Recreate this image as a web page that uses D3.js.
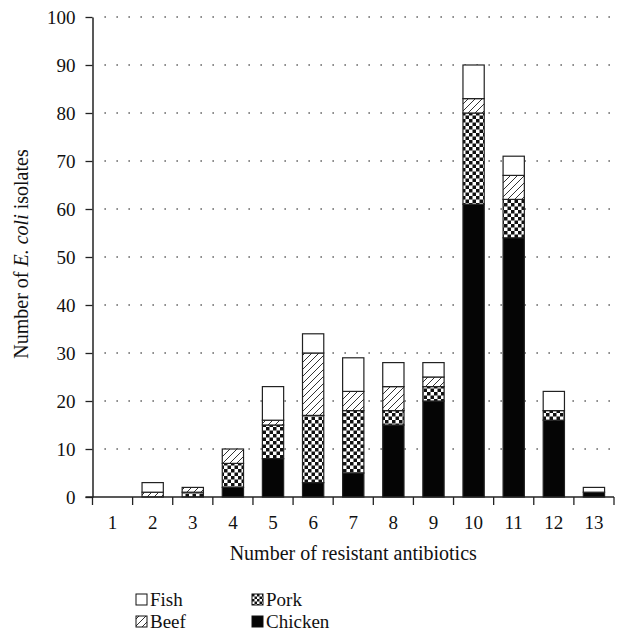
<!DOCTYPE html>
<html><head><meta charset="utf-8">
<script src="https://cdn.jsdelivr.net/npm/d3@7"></script>
<style>body{margin:0;background:#fff}svg{display:block}text{font-family:"Liberation Serif","Times New Roman",serif;fill:#111}</style>
</head><body><svg id="c" width="618" height="639"></svg>
<script>
const categories = ["1","2","3","4","5","6","7","8","9","10","11","12","13"];
const chicken = [0,0,0,2,8,3,5,15,20,61,54,16,1];
const pork    = [0,0,1,5,7,14,13,3,3,19,8,2,0];
const beef    = [0,1,1,3,1,13,4,5,2,3,5,0,0];
const fish    = [0,2,0,0,7,4,7,5,3,7,4,4,1];
const seriesNames = ["Chicken","Pork","Beef","Fish"];
const yTicks = [0,10,20,30,40,50,60,70,80,90,100];

const svg = d3.select("#c");
const L = 92.5, R = 614, T = 17, B = 497;
const x = d3.scaleBand().domain(categories).range([L, R]).paddingInner(0.47).paddingOuter(0.235);
const y = d3.scaleLinear().domain([0,100]).range([B, T]);

const defs = svg.append("defs");
const hatch = defs.append("pattern").attr("id","hatch").attr("patternUnits","userSpaceOnUse").attr("width",7).attr("height",7);
hatch.append("rect").attr("width",7).attr("height",7).attr("fill","#fff");
hatch.append("path").attr("d","M-1,8 L8,-1 M-2,2 L2,-2 M5,9 L9,5").attr("stroke","#333").attr("stroke-width",1);
const chk = defs.append("pattern").attr("id","chk").attr("patternUnits","userSpaceOnUse").attr("width",7).attr("height",7);
chk.append("rect").attr("width",7).attr("height",7).attr("fill","#fff");
chk.append("rect").attr("width",3.5).attr("height",3.5).attr("fill","#111");
chk.append("rect").attr("x",3.5).attr("y",3.5).attr("width",3.5).attr("height",3.5).attr("fill","#111");
const chkS = defs.append("pattern").attr("id","chkS").attr("patternUnits","userSpaceOnUse").attr("width",5).attr("height",5);
chkS.append("rect").attr("width",5).attr("height",5).attr("fill","#fff");
chkS.append("rect").attr("width",2.5).attr("height",2.5).attr("fill","#111");
chkS.append("rect").attr("x",2.5).attr("y",2.5).attr("width",2.5).attr("height",2.5).attr("fill","#111");

const fills = {Chicken:"#050505", Pork:"url(#chk)", Beef:"url(#hatch)", Fish:"#fff"};

// grid
svg.append("g").selectAll("line").data(yTicks.filter(d=>d>0)).join("line")
  .attr("x1", L+12).attr("x2", R).attr("y1", d=>y(d)).attr("y2", d=>y(d))
  .attr("stroke","#444").attr("stroke-width",1.6).attr("stroke-dasharray","1.3,10.7");

const table = categories.map((c,i)=>({cat:c, Chicken:chicken[i], Pork:pork[i], Beef:beef[i], Fish:fish[i]}));
const stacked = d3.stack().keys(seriesNames)(table);
svg.append("g").selectAll("g").data(stacked).join("g")
  .attr("fill", d=>fills[d.key])
  .selectAll("rect").data(d=>d.filter(p=>p[1]-p[0]>0)).join("rect")
  .attr("x", d=>x(d.data.cat)).attr("width", x.bandwidth())
  .attr("y", d=>y(d[1])).attr("height", d=>y(d[0])-y(d[1]))
  .attr("stroke","#222").attr("stroke-width",1.2);

// y axis
const ya = svg.append("g").attr("transform",`translate(${L},0)`)
  .call(d3.axisLeft(y).tickValues(yTicks).tickSize(7).tickPadding(10).tickSizeOuter(0));
ya.select(".domain").attr("stroke","#222").attr("stroke-width",1.5);
ya.selectAll(".tick line").attr("stroke","#222").attr("stroke-width",1.3);
ya.selectAll("text").attr("font-size",19).attr("font-family","Liberation Serif");

// x axis: ticks at band boundaries
const xa = svg.append("g").attr("transform",`translate(0,${B})`);
xa.append("line").attr("x1",L-7).attr("x2",R).attr("stroke","#222").attr("stroke-width",1.5);
const step = x.step();
xa.selectAll("line.tk").data(d3.range(categories.length+1)).join("line").attr("class","tk")
  .attr("x1", i=>L+i*step).attr("x2", i=>L+i*step).attr("y1",0).attr("y2",8)
  .attr("stroke","#222").attr("stroke-width",1.3);
xa.selectAll("text").data(categories).join("text")
  .attr("x", d=>x(d)+x.bandwidth()/2).attr("y",32).attr("text-anchor","middle")
  .attr("font-size",19).text(d=>d);

svg.append("text").attr("x",(L+R)/2).attr("y",560).attr("text-anchor","middle").attr("font-size",20)
  .text("Number of resistant antibiotics");
const yt = svg.append("text").attr("transform",`translate(28,${(T+B)/2-3}) rotate(-90)`).attr("text-anchor","middle").attr("font-size",20);
yt.append("tspan").text("Number of ");
yt.append("tspan").attr("font-style","italic").text("E. coli");
yt.append("tspan").text(" isolates");

// legend
const legend = [
  {name:"Fish", fill:"#fff", x:136, y:604},
  {name:"Beef", fill:"url(#hatch)", x:136, y:626},
  {name:"Pork", fill:"url(#chkS)", x:252, y:604},
  {name:"Chicken", fill:"#050505", x:252, y:626}
];
const lg = svg.append("g").selectAll("g").data(legend).join("g").attr("transform",d=>`translate(${d.x},${d.y})`);
lg.append("rect").attr("x",0).attr("y",-10).attr("width",11).attr("height",11).attr("fill",d=>d.fill).attr("stroke","#111").attr("stroke-width",1);
lg.append("text").attr("x",14).attr("y",1.5).attr("font-size",19).text(d=>d.name);
</script></body></html>
